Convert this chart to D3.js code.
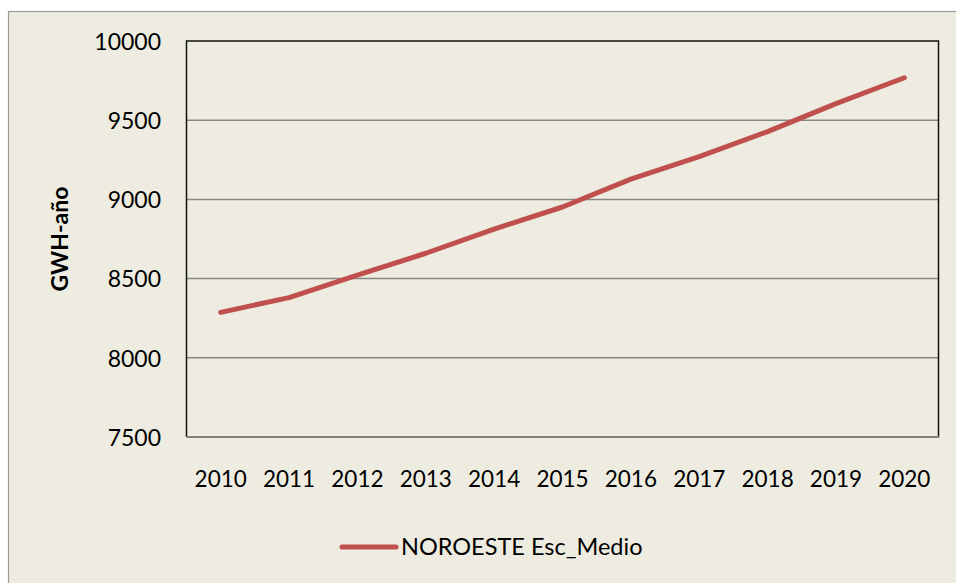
<!DOCTYPE html>
<html>
<head>
<meta charset="utf-8">
<script src="https://cdn.jsdelivr.net/npm/d3@7"></script>
<style>
  html, body { margin: 0; padding: 0; background: #ffffff; }
  svg { display: block; }
  text { font-family: Lato, "Open Sans", sans-serif; fill: #000; }
</style>
</head>
<body>
<svg id="chart" width="956" height="583"></svg>
<script>
const years = ["2010","2011","2012","2013","2014","2015","2016","2017","2018","2019","2020"];
const values = [8287, 8380, 8522, 8660, 8813, 8952, 9128, 9270, 9428, 9605, 9768];
const yTicks = [7500, 8000, 8500, 9000, 9500, 10000];
const seriesName = "NOROESTE Esc_Medio";
const yTitle = "GWH-año";

const W = 956, H = 583;
const plot = { left: 186.5, top: 41, right: 938.5, bottom: 437 };

const svg = d3.select("#chart");

// outer chart area
svg.append("rect")
  .attr("x", 8.5).attr("y", 11.5)
  .attr("width", W + 10).attr("height", H + 10)
  .attr("fill", "#EEECE1")
  .attr("stroke", "#9a9a9a").attr("stroke-width", 1.2);

const x = d3.scaleBand().domain(years).range([plot.left, plot.right]).padding(0);
const y = d3.scaleLinear().domain([7500, 10000]).range([plot.bottom, plot.top]);

// gridlines
svg.append("g").selectAll("line")
  .data(yTicks.filter(t => t > 7500 && t < 10000))
  .join("line")
  .attr("x1", plot.left).attr("x2", plot.right)
  .attr("y1", d => y(d)).attr("y2", d => y(d))
  .attr("stroke", "#878787").attr("stroke-width", 1.5);

// plot border
svg.append("path")
  .attr("d", `M${plot.left},${plot.bottom}V${plot.top}H${plot.right}V${plot.bottom}`)
  .attr("fill", "none").attr("stroke", "#111").attr("stroke-width", 1.5);
svg.append("line")
  .attr("x1", plot.left).attr("x2", plot.right + 0.75)
  .attr("y1", plot.bottom).attr("y2", plot.bottom)
  .attr("stroke", "#808080").attr("stroke-width", 1.8);

// y axis labels
const yAxis = d3.axisLeft(y).tickValues(yTicks).tickSize(0).tickPadding(0).tickFormat(d3.format("d"));
const gy = svg.append("g").attr("transform", `translate(161,0)`).call(yAxis);
gy.select(".domain").remove();
gy.selectAll("text")
  .attr("font-family", "Lato, 'Open Sans', sans-serif")
  .attr("font-size", 23).attr("fill", "#000").attr("dy", "0.36em");

// x axis labels
const xAxis = d3.axisBottom(x).tickSize(0).tickPadding(0);
const gx = svg.append("g").attr("transform", `translate(0,479)`).call(xAxis);
gx.select(".domain").remove();
gx.selectAll("text")
  .attr("font-family", "Lato, 'Open Sans', sans-serif")
  .attr("font-size", 22.5).attr("fill", "#000").attr("dy", "0.36em");

// y title
svg.append("text")
  .attr("transform", `translate(60,${(plot.top + plot.bottom) / 2}) rotate(-90)`)
  .attr("text-anchor", "middle").attr("dy", "0.36em")
  .attr("font-size", 23).attr("font-weight", "bold")
  .text(yTitle);

// line
const line = d3.line()
  .x((d, i) => x(years[i]) + x.bandwidth() / 2)
  .y(d => y(d));
svg.append("path")
  .datum(values)
  .attr("d", line)
  .attr("fill", "none").attr("stroke", "#C0504D")
  .attr("stroke-width", 5).attr("stroke-linecap", "round").attr("stroke-linejoin", "round");

// legend
const lg = svg.append("g").attr("transform", "translate(0,547)");
lg.append("line")
  .attr("x1", 342).attr("x2", 396).attr("y1", 0).attr("y2", 0)
  .attr("stroke", "#C0504D").attr("stroke-width", 5).attr("stroke-linecap", "round");
lg.append("text")
  .attr("x", 401).attr("y", 0).attr("dy", "0.36em")
  .attr("font-size", 23.5)
  .text(seriesName);
</script>
</body>
</html>
